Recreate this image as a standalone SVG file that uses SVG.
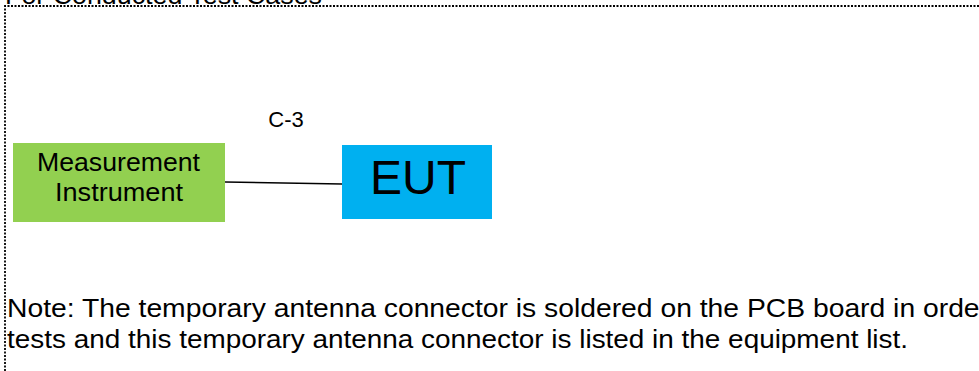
<svg xmlns="http://www.w3.org/2000/svg" width="979" height="371" viewBox="0 0 979 371">
<style>
text{font-family:"Liberation Sans",Arial,sans-serif;fill:#000}
.frame{fill:none;stroke:#000;stroke-width:1.8;stroke-dasharray:2 1.5}
.conn{stroke:#000;stroke-width:1.5;fill:none}
</style>
<rect width="979" height="371" fill="#fff"/>
<text x="5" y="4" font-size="26.5" textLength="317" lengthAdjust="spacingAndGlyphs">For Conducted Test Cases</text>
<path class="frame" d="M5,385 V6 H990"/>
<g id="connectors">
<line class="conn" x1="225" y1="182" x2="342" y2="184"/>
<text x="286" y="127" font-size="22" text-anchor="middle">C-3</text>
</g>
<g id="measurement-instrument">
<rect x="13" y="143" width="212" height="79" fill="#92D050"/>
<text x="37" y="171" font-size="25" textLength="163" lengthAdjust="spacingAndGlyphs">Measurement</text>
<text x="55" y="201" font-size="25" textLength="128" lengthAdjust="spacingAndGlyphs">Instrument</text>
</g>
<g id="eut">
<rect x="342" y="145" width="150" height="74" fill="#00B0F0"/>
<text x="418" y="194" font-size="48" text-anchor="middle">EUT</text>
</g>
<text x="7" y="317" font-size="26" textLength="982" lengthAdjust="spacingAndGlyphs">Note: The temporary antenna connector is soldered on the PCB board in order</text>
<text x="7" y="348" font-size="26" textLength="901" lengthAdjust="spacingAndGlyphs">tests and this temporary antenna connector is listed in the equipment list.</text>
</svg>
